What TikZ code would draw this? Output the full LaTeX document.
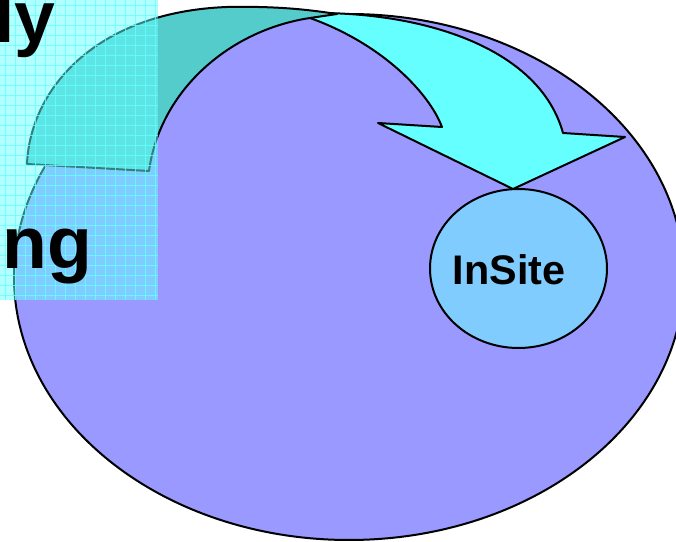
\documentclass[tikz,border=0pt]{standalone}
\usepackage{fontspec}
\setmainfont{Liberation Sans}
\usepackage{tikz}
\usetikzlibrary{shapes.geometric}

\definecolor{lavender}{HTML}{9999FF}
\definecolor{arrowfront}{HTML}{66FFFF}
\definecolor{arrowback}{HTML}{55CCCC}
\definecolor{insiteblue}{HTML}{80CCFF}

\begin{document}
\begin{tikzpicture}[x=0.75pt, y=-0.75pt,
        outline/.style={draw=black, line width=1.5pt, line join=round},
        gridline/.style={arrowfront, line width=0.6pt, opacity=0.8},
        bigword/.style={anchor=base west, inner sep=0pt, font=\bfseries\fontsize{55}{60}\selectfont}]
        \useasboundingbox (0,0) rectangle (676,542);
        \clip (0,0) rectangle (676,542);

        % Outer ellipse.
        \filldraw[outline, fill=lavender] (349,277) ellipse (335 and 263);

        % Curved arrow, front part.
        \filldraw[outline, fill=arrowfront] (310,18) -- (322,13)
            .. controls (430,14) and (540,50) .. (563,133)
            -- (625,137) -- (513,189) -- (378,123) -- (442,127)
            .. controls (430,95) and (385,45) .. (310,18) -- cycle;

        % Curved arrow, back part.
        \filldraw[outline, fill=arrowback] (27,164)
            .. controls (30,90) and (95,12) .. (227,7)
            .. controls (280,6) and (310,10) .. (337,14)
            -- (310,18)
            .. controls (230,30) and (160,90) .. (149,171) -- cycle;

        % InSite.
        \node[ellipse, outline, fill=insiteblue, minimum width=132.75pt, minimum height=119.25pt] (insite) at (518.5,268.5) {};
        \node[inner sep=0pt, font=\bfseries\fontsize{31}{36}\selectfont] (insitelabel) at (509,270) {InSite};

        % Translucent panel.
        \fill[arrowfront, fill opacity=0.5] (0,0) rectangle (158,300);
        \foreach \gx in {5,15,...,155}
            \draw[gridline] (\gx,0) -- (\gx,300);
        \foreach \gy in {5,15,...,295}
            \draw[gridline] (0,\gy) -- (158,\gy);

        % Cut words.
        \node[bigword] (wordly) at (-6,43) {ly};
        \node[bigword] (wordng) at (2,268) {ng};

    \end{tikzpicture}
\end{document}
